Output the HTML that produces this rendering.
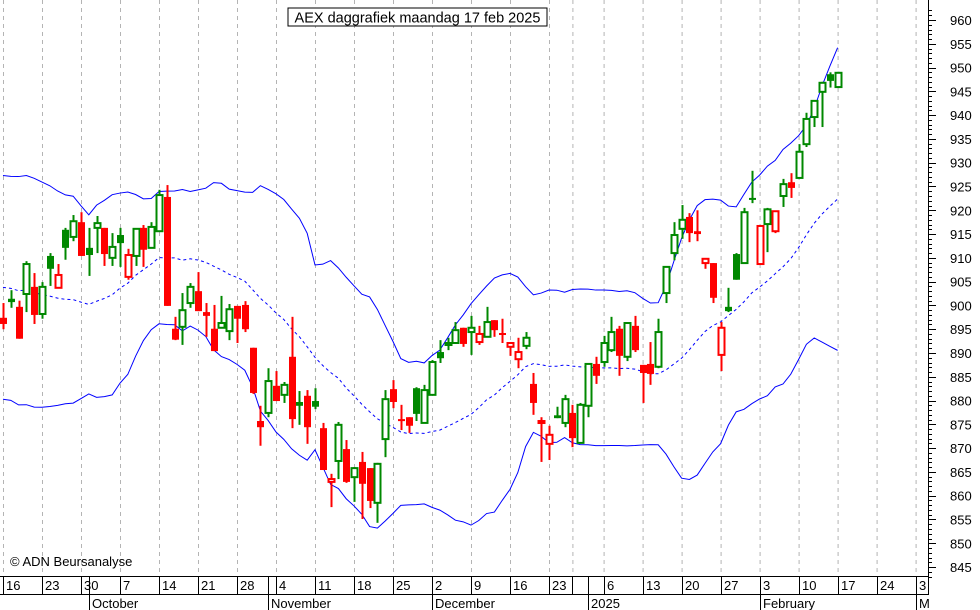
<!DOCTYPE html>
<html><head><meta charset="utf-8"><style>
html,body{margin:0;padding:0;background:#fff}
svg{display:block;font-family:"Liberation Sans",sans-serif}
</style></head><body>
<svg id="chart" width="980" height="610" viewBox="0 0 980 610" xmlns="http://www.w3.org/2000/svg">
<rect x="0" y="0" width="980" height="610" fill="#fff"/>
<g id="grid"></g>
<g id="bands"></g>
<g id="candles"></g>
<g id="axis"></g>
<g id="dates"></g>
<rect x="288" y="8" width="259" height="18" fill="#fff" stroke="#000"/>
<text x="417.5" y="22.5" text-anchor="middle" font-size="14.5">AEX daggrafiek maandag 17 feb 2025</text>
<text x="10" y="566" font-size="13">© ADN Beursanalyse</text>
</svg>
<script>
const priorCloses=[905,903,906,909,912,914,915,917,919,921,920,904,899,897,885,890,883,888,893];
const opens=[897.4,901.4,899.7,902.4,903.9,898.2,910.4,903.7,915.9,914.4,917.5,912.1,916.3,916.3,910.0,914.8,906.0,910.4,916.3,912.1,915.6,922.8,895.1,895.5,900.5,903.0,898.6,895.1,895.3,894.6,899.9,900.1,891.1,875.7,877.4,883.1,881.2,889.2,879.7,881.0,879.9,874.2,862.9,867.3,869.8,863.9,867.1,865.8,858.5,871.9,882.4,876.1,876.5,882.6,875.3,881.2,890.2,891.7,892.1,895.3,894.4,892.3,893.4,896.9,894.2,891.3,888.7,891.5,883.5,875.3,870.9,876.9,875.3,877.4,871.1,878.9,887.7,888.1,890.6,895.1,889.2,895.7,887.5,887.7,887.1,902.6,911.0,916.1,918.6,915.6,908.9,908.9,889.6,899.7,910.8,908.9,922.6,908.7,917.1,915.6,923.0,925.9,926.8,933.9,939.6,944.9,948.6,945.9];
const highs=[900.5,903.2,901.0,909.3,906.8,904.9,911.0,908.7,916.3,919.0,919.6,916.3,918.8,916.3,915.2,916.3,911.9,916.1,916.9,917.5,924.3,925.3,897.6,902.6,904.7,907.0,900.5,900.1,902.0,900.3,899.9,900.9,891.1,878.9,886.8,886.2,883.9,897.6,882.0,882.2,882.6,875.3,864.6,875.5,871.7,866.0,869.2,865.8,866.9,882.2,884.3,879.1,876.5,882.8,883.3,888.5,892.7,893.2,896.5,895.3,897.8,895.7,899.7,896.9,897.2,892.1,893.2,894.4,885.8,876.5,874.7,878.7,881.2,879.1,879.5,887.7,889.2,893.6,897.6,895.7,896.5,897.8,887.5,892.3,897.2,908.1,917.5,921.1,919.4,920.0,909.8,908.9,896.5,903.7,911.0,920.5,928.3,916.9,920.5,919.8,926.6,927.8,933.9,940.5,943.0,947.0,949.0,949.1];
const lows=[895.0,899.5,893.0,898.6,896.1,897.2,904.1,903.7,909.6,913.5,910.4,906.2,911.0,908.3,908.3,908.1,905.4,908.3,908.1,912.1,915.6,899.9,892.7,891.7,899.5,898.8,893.4,890.4,895.3,892.7,892.1,894.4,881.4,870.5,876.5,879.9,879.5,874.2,874.9,870.9,878.2,865.4,857.6,863.5,862.7,858.7,855.1,857.4,854.3,868.1,878.4,873.8,873.2,875.7,875.3,881.2,887.9,890.6,892.1,891.3,889.6,891.7,893.4,893.4,892.1,889.4,886.8,890.8,877.0,867.1,867.5,876.3,874.4,870.2,871.1,876.5,883.5,887.1,890.2,885.2,888.3,890.2,879.5,883.3,886.8,900.5,909.5,914.0,913.3,913.5,907.7,900.5,886.2,898.6,905.4,908.9,921.5,908.7,911.2,915.2,920.7,922.6,926.8,933.3,937.5,937.5,945.8,945.7];
const closes=[896.1,900.7,893.0,908.7,898.0,903.9,907.7,906.4,912.1,917.7,910.4,910.6,917.3,910.8,912.3,913.1,910.6,916.1,911.7,916.5,923.2,899.9,892.8,899.0,903.9,898.8,897.8,890.4,896.3,899.2,897.2,895.0,881.6,874.4,884.1,879.9,883.3,876.1,878.9,874.4,878.7,865.4,863.5,874.9,862.9,865.8,862.5,858.9,866.7,880.3,879.7,875.9,874.7,877.2,882.2,888.1,888.9,892.1,894.8,891.9,895.3,894.0,896.5,894.8,894.0,892.1,890.2,893.2,879.5,875.7,872.8,876.3,880.3,872.1,879.1,887.7,885.2,892.1,894.4,889.4,896.3,890.6,885.8,885.6,894.4,908.1,914.8,918.0,915.2,915.0,909.8,901.6,895.3,898.8,905.4,919.6,922.4,916.7,920.2,919.8,925.5,924.7,932.3,939.2,943.0,946.8,947.2,948.9];
const weekIdx=[0,5,10,15,20,25,30,35,40,45,50,55,60,65,70,73,77,82,87,92,97,102,107,112,117];
const weekLabels=["16","23","30","7","14","21","28","4","11","18","25","2","9","16","23","","6","13","20","27","3","10","17","24","3"];
const monthIdx=[11,34,55,75,97,117];
const monthLabels=["October","November","December","2025","February","M"];
const priceTicks=[845,850,855,860,865,870,875,880,885,890,895,900,905,910,915,920,925,930,935,940,945,950,955,960];

const NS="http://www.w3.org/2000/svg";
const X=i=>3+i*7.8;
const Y=v=>20+(960-v)*4.757;
function mk(tag,attrs,parent){const e=document.createElementNS(NS,tag);for(const k in attrs)e.setAttribute(k,attrs[k]);parent.appendChild(e);return e;}
const grid=document.getElementById('grid'),bands=document.getElementById('bands'),cg=document.getElementById('candles'),axis=document.getElementById('axis'),dates=document.getElementById('dates');

weekIdx.forEach((wi)=>{const l=mk('line',{x1:X(wi)+0.5,x2:X(wi)+0.5,y1:0,y2:576,stroke:'#b4b4b4','stroke-dasharray':'4,4'},grid);

});

const all=priorCloses.concat(closes);const P=priorCloses.length;
let up=[],mid=[],lo=[];
for(let i=0;i<closes.length;i++){const w=all.slice(i+P-19,i+P+1);const m=w.reduce((a,b)=>a+b,0)/w.length;const sd=Math.sqrt(w.reduce((a,b)=>a+(b-m)*(b-m),0)/w.length);
up.push(`${X(i)},${Y(m+2*sd)}`);mid.push(`${X(i)},${Y(m)}`);lo.push(`${X(i)},${Y(m-2*sd)}`);}
const bu=mk('polyline',{points:up.join(' '),fill:'none',stroke:'#0000ff','stroke-width':1},bands);


const bm=mk('polyline',{points:mid.join(' '),fill:'none',stroke:'#0000ff','stroke-width':1,'stroke-dasharray':'3,3'},bands);


const bl=mk('polyline',{points:lo.join(' '),fill:'none',stroke:'#0000ff','stroke-width':1},bands);



let prev=897;
for(let i=0;i<closes.length;i++){const o=opens[i],c=closes[i],h=Math.max(highs[i],o,c),l=Math.min(lows[i],o,c);
const col=c>=prev?'#008800':'#ff0000';prev=c;
const g=mk('g',{},cg);


const x=Math.round(X(i));
mk('line',{x1:x+0.5,x2:x+0.5,y1:Y(h),y2:Y(l),stroke:col,'stroke-width':2},g);
const top=Y(Math.max(o,c)),bh=Math.max(Y(Math.min(o,c))-top,2);
if(c>o){mk('rect',{x:x-2.5,y:top,width:6,height:bh,fill:'#fff',stroke:col,'stroke-width':2},g);}
else{mk('rect',{x:x-3,y:top,width:7,height:bh,fill:col},g);}}

mk('line',{x1:928.5,x2:928.5,y1:0,y2:594,stroke:'#000'},axis);
for(let v=843;v<=962;v++){const y=Math.round(Y(v))+0.5;mk('line',{x1:929,x2:v%5===0?936:932,y1:y,y2:y,stroke:'#000'},axis);}
priceTicks.forEach(v=>{const t=mk('text',{x:950,y:Y(v)+5,'font-size':13},axis);t.textContent=v;

});

mk('line',{x1:0,x2:929,y1:576.5,y2:576.5,stroke:'#000'},dates);
mk('line',{x1:0,x2:929,y1:594.5,y2:594.5,stroke:'#000'},dates);
weekIdx.forEach((wi,k)=>{const x=Math.round(X(wi))+0.5;mk('line',{x1:x,x2:x,y1:576,y2:594,stroke:'#000'},dates);
const t=mk('text',{x:x+2.5,y:590,'font-size':13},dates);t.textContent=weekLabels[k];

});
monthIdx.forEach((mi,k)=>{const x=Math.round(X(mi))+0.5;mk('line',{x1:x,x2:x,y1:576,y2:610,stroke:'#000'},dates);
const t=mk('text',{x:x+2.5,y:608,'font-size':13},dates);t.textContent=monthLabels[k];

});
</script>
</body></html>
